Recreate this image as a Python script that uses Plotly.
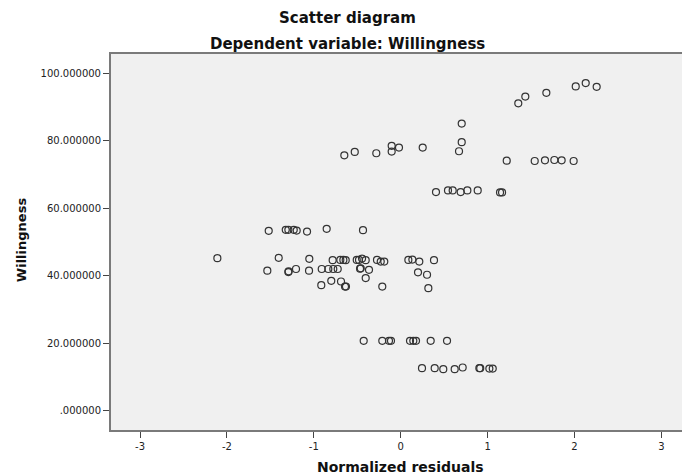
import plotly.graph_objects as go

# Normalized residuals (x) and Willingness (y)
resid_top = [-0.649, -0.529, -0.281, -0.104, -0.104, -0.02, 0.253,
             2.014, 2.129, 2.255, 1.676, 1.434, 1.353,
             0.702, 0.702, 0.671]
will_top = [75.7, 76.7, 76.3, 78.5, 76.8, 78.0, 78.0,
            96.1, 97.1, 96.0, 94.2, 93.1, 91.1,
            85.1, 79.6, 76.9]

resid_74 = [1.22, 1.542, 1.66, 1.768, 1.852, 1.99]
will_74 = [74.1, 74.0, 74.2, 74.3, 74.2, 74.0]

resid_65 = [0.406, 0.544, 0.598, 0.69, 0.767, 0.886, 1.143, 1.166]
will_65 = [64.8, 65.3, 65.3, 64.8, 65.3, 65.3, 64.7, 64.7]

resid_53 = [-1.519, -1.323, -1.293, -1.231, -1.197, -1.078, -0.852, -0.434]
will_53 = [53.3, 53.6, 53.6, 53.6, 53.4, 53.1, 53.9, 53.5]

resid_45 = [-2.11, -1.404, -1.052, -0.783, -0.695, -0.66, -0.633, -0.506, -0.48,
            -0.445, -0.403, -0.273, -0.23, -0.189, 0.088, 0.134, 0.214, 0.383]
will_45 = [45.2, 45.3, 45.0, 44.6, 44.7, 44.7, 44.6, 44.7, 44.7,
           45.1, 44.6, 44.7, 44.2, 44.2, 44.7, 44.8, 44.2, 44.6]

resid_42 = [-1.535, -1.293, -1.29, -1.205, -1.055, -0.909, -0.833, -0.776, -0.725,
            -0.468, -0.46, -0.365, 0.199, 0.303]
will_42 = [41.5, 41.1, 41.3, 42.0, 41.5, 42.0, 42.0, 42.0, 42.0,
           42.1, 42.2, 41.75, 41.0, 40.3]

resid_37 = [-0.914, -0.799, -0.687, -0.641, -0.63, -0.403, -0.212, 0.318]
will_37 = [37.2, 38.5, 38.3, 36.8, 36.8, 39.3, 36.8, 36.3]

resid_20 = [-0.426, -0.212, -0.135, -0.112, 0.107, 0.145, 0.176, 0.345, 0.533]
will_20 = [20.7, 20.7, 20.7, 20.7, 20.7, 20.7, 20.7, 20.7, 20.7]

resid_12 = [0.245, 0.391, 0.49, 0.621, 0.713, 0.905, 0.915, 1.02, 1.059]
will_12 = [12.6, 12.6, 12.3, 12.3, 12.8, 12.6, 12.6, 12.5, 12.5]

x_tick_vals = [-3, -2, -1, 0, 1, 2, 3]
x_tick_text = ["-3", "-2", "-1", "0", "1", "2", "3"]
y_tick_vals = [0, 20, 40, 60, 80, 100]
y_tick_text = [".000000", "20.000000", "40.000000", "60.000000", "80.000000", "100.000000"]

title_text = "Scatter diagram"
subtitle_text = "Dependent variable: Willingness"
x_title = "Normalized residuals"
y_title = "Willingness"

x_all = resid_top + resid_74 + resid_65 + resid_53 + resid_45 + resid_42 + resid_37 + resid_20 + resid_12
y_all = will_top + will_74 + will_65 + will_53 + will_45 + will_42 + will_37 + will_20 + will_12

FONT = "DejaVu Sans"

fig = go.Figure()
fig.add_trace(go.Scatter(
    x=x_all, y=y_all, mode="markers",
    marker=dict(symbol="circle-open", size=7, color="#333333", line=dict(width=1.2)),
    showlegend=False, hoverinfo="skip"))

fig.update_layout(
    width=682, height=475,
    margin=dict(l=111, r=0, t=54, b=45),
    paper_bgcolor="white", plot_bgcolor="#f0f0f0",
    font=dict(family=FONT, size=10, color="#222222"),
    xaxis=dict(range=[-3.334, 3.237], tickvals=x_tick_vals, ticktext=x_tick_text,
               showgrid=False, zeroline=False, showline=True, linecolor="#7a7a7a",
               linewidth=2, mirror=True, ticks="outside", ticklen=6, tickcolor="#444444",
               tickfont=dict(family=FONT, size=10, color="#222222")),
    yaxis=dict(range=[-5.72, 105.72], tickvals=y_tick_vals, ticktext=y_tick_text,
               showgrid=False, zeroline=False, showline=True, linecolor="#7a7a7a",
               linewidth=2, ticks="outside", ticklen=6, tickcolor="#444444",
               tickfont=dict(family=FONT, size=10, color="#222222")),
    annotations=[
        dict(text="<b>%s</b>" % title_text, x=0.414, y=1.0957, xref="paper", yref="paper",
             xanchor="center", yanchor="middle", showarrow=False,
             font=dict(family=FONT, size=15, color="#111111")),
        dict(text="<b>%s</b>" % subtitle_text, x=0.414, y=1.0266, xref="paper", yref="paper",
             xanchor="center", yanchor="middle", showarrow=False,
             font=dict(family=FONT, size=15, color="#111111")),
        dict(text="<b>%s</b>" % x_title, x=0.507, y=-0.098, xref="paper", yref="paper",
             xanchor="center", yanchor="middle", showarrow=False,
             font=dict(family=FONT, size=14, color="#111111")),
        dict(text="<b>%s</b>" % y_title, x=-0.1576, y=0.505, xref="paper", yref="paper",
             xanchor="center", yanchor="middle", showarrow=False, textangle=-90,
             font=dict(family=FONT, size=13, color="#111111")),
    ],
)

# remove the page's default body margin and scrollbars so the figure fills the window
page_fix = ("document.body.style.margin='0';"
            "document.documentElement.style.overflow='hidden';"
            "document.body.style.overflow='hidden';")

fig.write_html("out.html", post_script=page_fix,
               config={"displayModeBar": False, "staticPlot": True})
